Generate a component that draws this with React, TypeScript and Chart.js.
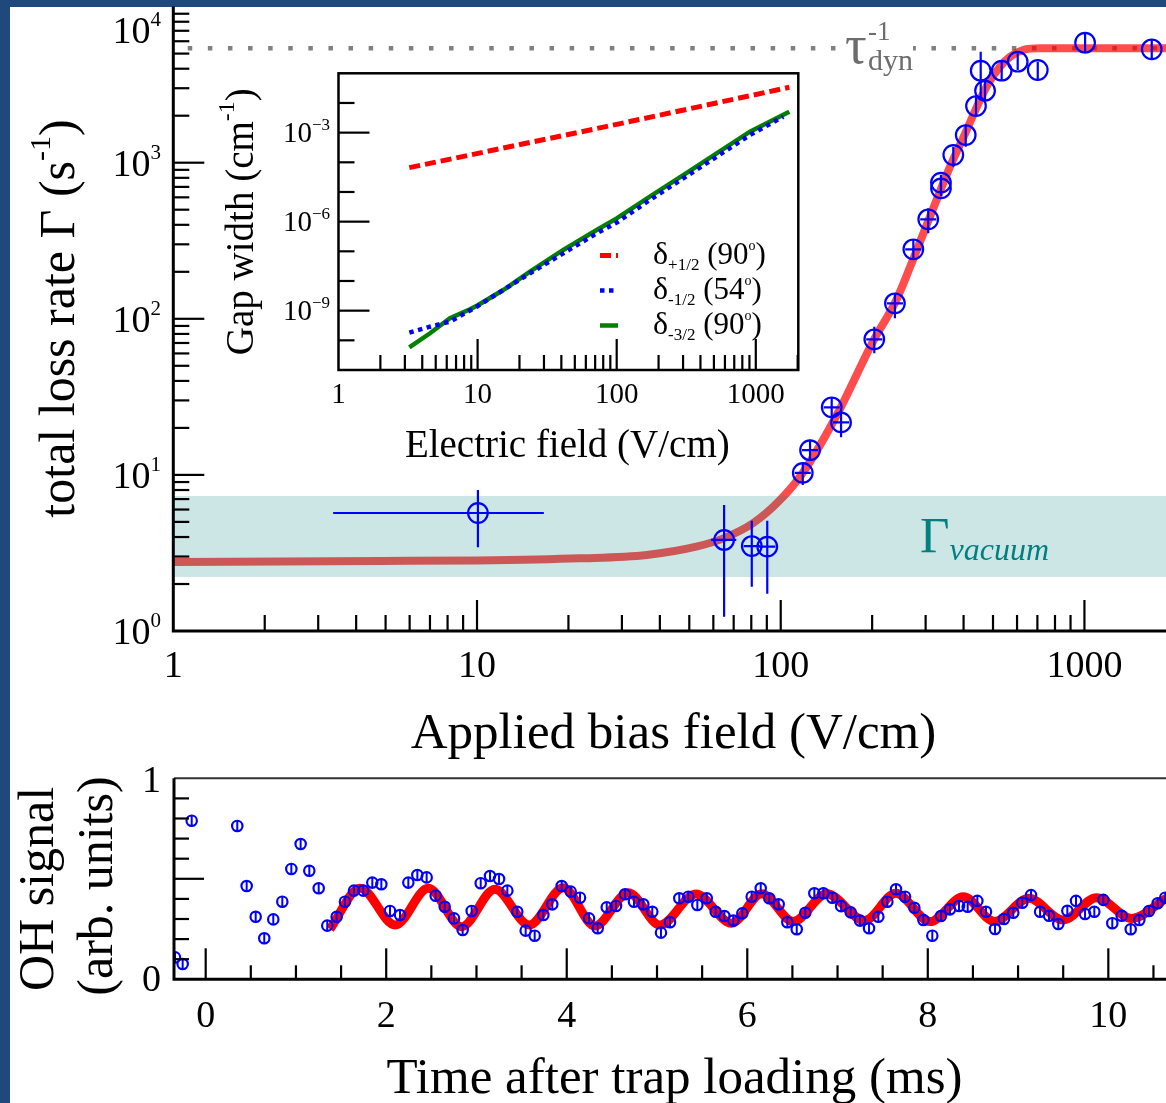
import React, { useEffect, useRef } from "react";
import { Chart, registerables } from "chart.js";
Chart.register(...registerables);

const SERIF = '"Liberation Serif", "Times New Roman", serif';

// ---------------- Main panel: total loss rate vs applied bias field ----------------
const FIELD = [10.07, 65.1, 80.3, 90.3, 118.2, 124.9, 147.2, 158, 203.3, 237.7, 273.3, 306, 337, 337, 370, 406.6, 439.5, 470.7, 455.5, 534, 603, 702, 1005, 1666];
const GAMMA = [5.7, 3.83, 3.5, 3.47, 10.3, 14.4, 27.1, 21.7, 73.9, 125.7, 278.7, 434, 745, 685, 1120, 1504, 2306, 2893, 3885, 3885, 4436, 3926, 5870, 5325];
const GAMMA_LO = [3.44, 1.235, 1.92, 1.73, 8.6, 12.3, 23.4, 17.4, 60.1, 100.7, 238, 353, 665, 610, 943, 1267, 2020, 2460, 2522, 3390, 3924, 3390, 5020, 4550];
const GAMMA_HI = [8.0, 6.41, 5.09, 5.09, 12.0, 16.8, 31.4, 26.0, 89, 145.6, 320, 510, 836, 770, 1265, 1743, 2632, 3390, 5140, 4550, 5016, 4436, 6840, 6170];
const FIELD_LO = [3.36, 59.0, 75.5, 84.9, 111.2, 117.5, 138.5, 148.6, 191.2, 223.6, 257, 287.9, null, null, null, null, null, null, null, null, null, null, null, null];
const FIELD_HI = [16.6, 71.4, 85.4, 96.0, 125.6, 132.8, 156.5, 168.0, 216.2, 252.7, 290.5, 325.3, null, null, null, null, null, null, null, null, null, null, null, null];

const FIT_FIELD = [1, 4.79, 10, 21.8, 36.2, 52.7, 64.7, 81.0, 99.5, 118.2, 153, 203, 238, 267, 295, 326, 361, 405, 453, 483, 527, 569, 628, 714, 900, 1856];
const FIT_GAMMA = [2.77, 2.81, 2.83, 2.92, 3.07, 3.47, 3.92, 4.9, 6.9, 10.3, 24.2, 73.9, 127, 216, 353, 577, 943, 1543, 2522, 3227, 4121, 4775, 5272, 5400, 5400, 5400];

const TAU_DYN_INV = 5400;
const VACUUM_LO = 2.22;
const VACUUM_HI = 7.32;
const MAIN_X_MAX = 1856;
const MAIN_X_LABELS = ["1", "10", "100", "1000"];
const MAIN_X_LABEL_VALUES = [1, 10, 100, 1000];
const MAIN_Y_EXPONENTS = [0, 1, 2, 3, 4];

// ---------------- Inset: gap widths ----------------
const DPLUS_X = [3.23, 100, 1742];
const DPLUS_Y = [6.6e-5, 1.9e-3, 3.37e-2];
const DM1_X = [3.23, 4.55, 6.33, 9.85, 15.3, 23.8, 41.3, 71.8, 100, 173, 301, 523, 908, 1577];
const DM1_Y = [1.81e-10, 2.88e-10, 4.26e-10, 1.36e-9, 4.97e-9, 1.82e-8, 8.57e-8, 4.05e-7, 9.25e-7, 5.37e-6, 2.89e-5, 1.55e-4, 8.32e-4, 3.45e-3];
const DM3_X = [3.23, 4.55, 6.33, 8.82, 10.1, 15.3, 23.8, 41.3, 71.8, 100, 173, 301, 523, 908, 1742];
const DM3_Y = [5.82e-11, 1.73e-10, 5.52e-10, 1.11e-9, 1.55e-9, 4.97e-9, 2.06e-8, 1.11e-7, 5.24e-7, 1.29e-6, 6.93e-6, 3.73e-5, 2.01e-4, 1.08e-3, 5.09e-3];
const INSET_X_MAX = 2021;
const INSET_X_LABELS = ["1", "10", "100", "1000"];
const INSET_X_LABEL_VALUES = [1, 10, 100, 1000];
const INSET_Y_LABEL_EXP = [-3, -6, -9];
const LEGEND_LABELS = [
  { sub: "+1/2", angle: "90" },
  { sub: "-1/2", angle: "54" },
  { sub: "-3/2", angle: "90" },
];

// ---------------- Bottom panel: OH signal vs time ----------------
const OSC_T = [-0.34, -0.255, -0.155, 0.35, 0.454, 0.554, 0.649, 0.749, 0.849, 0.949, 1.052, 1.148, 1.252, 1.347, 1.451, 1.543, 1.643, 1.746, 1.846, 1.946, 2.042, 2.153, 2.245, 2.345, 2.448, 2.548, 2.648, 2.751, 2.847, 2.947, 3.047, 3.15, 3.25, 3.342, 3.452, 3.545, 3.645, 3.741, 3.84, 3.944, 4.044, 4.147, 4.247, 4.343, 4.443, 4.546, 4.646, 4.745, 4.848, 4.948, 5.044, 5.144, 5.247, 5.347, 5.447, 5.551, 5.65, 5.746, 5.845, 5.945, 6.049, 6.149, 6.244, 6.348, 6.444, 6.548, 6.643, 6.743, 6.843, 6.942, 7.04, 7.146, 7.249, 7.349, 7.452, 7.552, 7.648, 7.748, 7.851, 7.951, 8.05, 8.146, 8.246, 8.346, 8.442, 8.549, 8.645, 8.745, 8.844, 8.947, 9.047, 9.144, 9.244, 9.343, 9.446, 9.546, 9.642, 9.742, 9.845, 9.945, 10.044, 10.148, 10.248, 10.343, 10.451, 10.547, 10.63];
const OSC_V = [0.109, 0.076, 0.789, 0.763, 0.464, 0.311, 0.204, 0.298, 0.386, 0.549, 0.673, 0.54, 0.453, 0.267, 0.311, 0.386, 0.441, 0.441, 0.481, 0.473, 0.34, 0.32, 0.481, 0.519, 0.507, 0.416, 0.361, 0.303, 0.245, 0.34, 0.478, 0.514, 0.499, 0.441, 0.336, 0.242, 0.217, 0.32, 0.373, 0.464, 0.436, 0.406, 0.303, 0.254, 0.358, 0.365, 0.423, 0.386, 0.373, 0.336, 0.232, 0.284, 0.403, 0.411, 0.37, 0.403, 0.336, 0.315, 0.292, 0.328, 0.411, 0.453, 0.403, 0.373, 0.284, 0.249, 0.331, 0.428, 0.428, 0.406, 0.364, 0.333, 0.292, 0.254, 0.311, 0.386, 0.448, 0.411, 0.356, 0.295, 0.217, 0.315, 0.348, 0.365, 0.361, 0.39, 0.336, 0.25, 0.3, 0.331, 0.381, 0.419, 0.336, 0.316, 0.275, 0.341, 0.39, 0.325, 0.336, 0.395, 0.279, 0.316, 0.249, 0.295, 0.34, 0.378, 0.406];
const OSC_ERR = 0.027;
const OSC_FIT_T = [1.378, 1.71, 2.1, 2.466, 2.836, 3.205, 3.585, 3.962, 4.313, 4.683, 5.033, 5.43, 5.827, 6.16, 6.51, 6.88, 7.3, 7.645, 8.025, 8.394, 8.74, 9.12, 9.5, 9.87, 10.26, 10.64];
const OSC_FIT_V = [0.25, 0.453, 0.27, 0.453, 0.262, 0.448, 0.27, 0.455, 0.265, 0.431, 0.27, 0.424, 0.279, 0.426, 0.287, 0.426, 0.292, 0.428, 0.287, 0.411, 0.287, 0.403, 0.295, 0.406, 0.303, 0.403];
const OSC_T_MIN = -0.351;
const OSC_T_MAX = 10.639;
const OSC_X_LABELS = ["0", "2", "4", "6", "8", "10"];
const OSC_X_LABEL_VALUES = [0, 2, 4, 6, 8, 10];

// ---------------- helpers ----------------
type Seg = { t: string; size: number; dy?: number; italic?: boolean };
const fontOf = (s: Seg) => `${s.italic ? "italic " : ""}${s.size}px ${SERIF}`;

function drawRich(ctx: CanvasRenderingContext2D, segs: Seg[], x: number, y: number, align: "left" | "center" | "right", color: string, rotate = false) {
  ctx.save();
  ctx.translate(x, y);
  if (rotate) ctx.rotate(-Math.PI / 2);
  ctx.fillStyle = color;
  ctx.textAlign = "left";
  ctx.textBaseline = "alphabetic";
  const widths = segs.map((s) => {
    ctx.font = fontOf(s);
    return ctx.measureText(s.t).width;
  });
  const total = widths.reduce((a, b) => a + b, 0);
  let cx = align === "left" ? 0 : align === "center" ? -total / 2 : -total;
  segs.forEach((s, i) => {
    ctx.font = fontOf(s);
    ctx.fillText(s.t, cx, s.dy || 0);
    cx += widths[i];
  });
  ctx.restore();
}

function line(ctx: CanvasRenderingContext2D, x1: number, y1: number, x2: number, y2: number) {
  ctx.beginPath();
  ctx.moveTo(x1, y1);
  ctx.lineTo(x2, y2);
  ctx.stroke();
}

const pts = (xs: number[], ys: number[]) => xs.map((x, i) => ({ x, y: ys[i] }));

// ---------------- main chart ----------------
const mainDecor = {
  id: "mainDecor",
  afterDatasetsDraw(chart: any) {
    const { ctx, chartArea: ca, scales } = chart;
    const xs = scales.x, ys = scales.y;
    ctx.save();
    ctx.beginPath();
    ctx.rect(ca.left, ca.top, ca.right - ca.left, ca.bottom - ca.top);
    ctx.clip();
    ctx.strokeStyle = "#0000ff";
    ctx.lineWidth = 2.2;
    for (let i = 0; i < FIELD.length; i++) {
      const px = xs.getPixelForValue(FIELD[i]);
      const py = ys.getPixelForValue(GAMMA[i]);
      line(ctx, px, ys.getPixelForValue(GAMMA_LO[i]), px, ys.getPixelForValue(GAMMA_HI[i]));
      if (FIELD_LO[i] != null && FIELD_HI[i] != null) {
        line(ctx, xs.getPixelForValue(FIELD_LO[i]), py, xs.getPixelForValue(FIELD_HI[i]), py);
      }
    }
    ctx.restore();
  },
  afterDraw(chart: any) {
    const { ctx, chartArea: ca, scales } = chart;
    const xs = scales.x, ys = scales.y;
    ctx.save();
    ctx.strokeStyle = "#000";
    ctx.lineWidth = 2.2;
    for (const d of [1, 10, 100, 1000]) {
      for (let m = 1; m <= 9; m++) {
        const v = m * d;
        if (v <= 1 || v > MAIN_X_MAX) continue;
        const px = xs.getPixelForValue(v);
        line(ctx, px, ca.bottom, px, ca.bottom - (m === 1 ? 31 : 16));
      }
    }
    for (const d of [1, 10, 100, 1000]) {
      for (let m = 1; m <= 9; m++) {
        const v = m * d;
        if (v <= 1) continue;
        const py = ys.getPixelForValue(v);
        line(ctx, ca.left, py, ca.left + (m === 1 ? 31 : 16), py);
      }
    }
    ctx.lineWidth = 3;
    ctx.beginPath();
    ctx.moveTo(ca.left, ca.top);
    ctx.lineTo(ca.left, ca.bottom);
    ctx.lineTo(ca.right, ca.bottom);
    ctx.stroke();

    MAIN_X_LABEL_VALUES.forEach((v, i) => {
      drawRich(ctx, [{ t: MAIN_X_LABELS[i], size: 38 }], xs.getPixelForValue(v), 677, "center", "#000");
    });
    MAIN_Y_EXPONENTS.forEach((e) => {
      const cy = Math.max(ys.getPixelForValue(Math.pow(10, e)), 30);
      drawRich(ctx, [{ t: "10", size: 38 }, { t: String(e), size: 21, dy: -17 }], 161, cy + 13, "right", "#000");
    });
    drawRich(ctx, [{ t: "Applied bias field (V/cm)", size: 51 }], 673.5, 748, "center", "#000");
    drawRich(ctx, [{ t: "total loss rate Γ (s", size: 50 }, { t: "-1", size: 30, dy: -24 }, { t: ")", size: 50 }], 74, 318.5, "center", "#000", true);

    ctx.fillStyle = "#fff";
    ctx.fillRect(843, 44, 70, 9);
    ctx.fillStyle = "#6d6d6d";
    ctx.textAlign = "left";
    ctx.textBaseline = "alphabetic";
    ctx.font = `54px ${SERIF}`;
    ctx.fillText("τ", 845, 63);
    ctx.font = `30px ${SERIF}`;
    ctx.fillText("dyn", 868, 70);
    ctx.font = `27px ${SERIF}`;
    ctx.fillText("-1", 868, 40);

    drawRich(ctx, [{ t: "Γ", size: 51 }, { t: "vacuum", size: 32, italic: true, dy: 8.3 }], 920, 551.7, "left", "#008080");
    ctx.restore();
  },
};

function mainConfig(): any {
  return {
    type: "scatter",
    data: {
      datasets: [
        {
          type: "scatter",
          label: "Loss rate",
          data: pts(FIELD, GAMMA),
          pointStyle: "circle",
          pointRadius: 9.8,
          pointBorderWidth: 2.2,
          pointBorderColor: "#0000ff",
          pointBackgroundColor: "rgba(0,0,0,0)",
          order: 0,
        },
        {
          type: "line",
          label: "Γ vacuum",
          data: [{ x: 1, y: VACUUM_HI }, { x: MAIN_X_MAX, y: VACUUM_HI }],
          showLine: true,
          borderWidth: 0,
          borderColor: "rgba(0,0,0,0)",
          backgroundColor: "rgba(0,128,128,0.2)",
          fill: { value: VACUUM_LO },
          pointRadius: 0,
          order: 1,
        },
        {
          type: "line",
          label: "Fit",
          data: pts(FIT_FIELD, FIT_GAMMA),
          showLine: true,
          borderColor: "rgba(255,0,0,0.7)",
          borderWidth: 8,
          cubicInterpolationMode: "monotone",
          pointRadius: 0,
          fill: false,
          order: 2,
        },
        {
          type: "line",
          label: "tau_dyn^-1",
          data: [{ x: 1, y: TAU_DYN_INV }, { x: MAIN_X_MAX, y: TAU_DYN_INV }],
          showLine: true,
          borderColor: "#808080",
          borderWidth: 4.5,
          borderDash: [4.5, 15.6],
          borderDashOffset: 5.65,
          pointRadius: 0,
          fill: false,
          order: 3,
        },
      ],
    },
    options: {
      responsive: false,
      animation: false,
      devicePixelRatio: 1,
      events: [],
      layout: { autoPadding: false, padding: { left: 173.3, top: 6.6, right: 0, bottom: 139 } },
      scales: {
        x: { type: "logarithmic", min: 1, max: MAIN_X_MAX, display: false, bounds: "data" },
        y: { type: "logarithmic", min: 1, max: 10000, display: false, bounds: "data" },
      },
      plugins: { legend: { display: false }, tooltip: { enabled: false } },
    },
    plugins: [mainDecor],
  };
}

// ---------------- inset chart ----------------
const insetDecor = {
  id: "insetDecor",
  beforeDraw(chart: any) {
    const { ctx, chartArea: ca } = chart;
    ctx.save();
    ctx.fillStyle = "#fff";
    ctx.fillRect(ca.left, ca.top, ca.right - ca.left, ca.bottom - ca.top);
    ctx.restore();
  },
  afterDraw(chart: any) {
    const { ctx, chartArea: ca, scales } = chart;
    const xs = scales.x, ys = scales.y;
    ctx.save();
    ctx.strokeStyle = "#000";
    ctx.lineWidth = 2.2;
    for (const d of [1, 10, 100, 1000]) {
      for (let m = 1; m <= 9; m++) {
        const v = m * d;
        if (v <= 1 || v >= INSET_X_MAX) continue;
        const px = xs.getPixelForValue(v);
        line(ctx, px, ca.bottom, px, ca.bottom - (m === 1 ? 31 : 15));
      }
    }
    for (let e = -10; e <= -2; e++) {
      const py = ys.getPixelForValue(Math.pow(10, e));
      const major = INSET_Y_LABEL_EXP.includes(e);
      line(ctx, ca.left, py, ca.left + (major ? 31 : 16), py);
    }
    ctx.lineWidth = 2.5;
    ctx.strokeRect(ca.left, ca.top, ca.right - ca.left, ca.bottom - ca.top);

    INSET_X_LABEL_VALUES.forEach((v, i) => {
      drawRich(ctx, [{ t: INSET_X_LABELS[i], size: 29 }], xs.getPixelForValue(v), 343, "center", "#000");
    });
    INSET_Y_LABEL_EXP.forEach((e) => {
      const py = ys.getPixelForValue(Math.pow(10, e));
      drawRich(ctx, [{ t: "10", size: 29 }, { t: "−" + Math.abs(e), size: 17, dy: -12 }], 130, py + 9.8, "right", "#000");
    });
    drawRich(ctx, [{ t: "Electric field (V/cm)", size: 39 }], 367.3, 396.7, "center", "#000");
    drawRich(ctx, [{ t: "Gap width (cm", size: 39 }, { t: "-1", size: 24, dy: -19 }, { t: ")", size: 39 }], 53.3, 161.7, "center", "#000", true);

    const styles = [
      { color: "#ff0000", dash: [11, 5], width: 5 },
      { color: "#0000ff", dash: [4.5, 4.5], width: 4.5 },
      { color: "#008000", dash: [], width: 4.5 },
    ];
    const baselines = [204, 239, 274];
    LEGEND_LABELS.forEach((lab, i) => {
      const st = styles[i];
      const yb = baselines[i];
      ctx.save();
      ctx.strokeStyle = st.color;
      ctx.lineWidth = st.width;
      ctx.setLineDash(st.dash);
      line(ctx, 400, yb - 8.5, 418, yb - 8.5);
      ctx.restore();
      drawRich(
        ctx,
        [
          { t: "δ", size: 32 },
          { t: lab.sub, size: 17, dy: 6 },
          { t: " (" + lab.angle, size: 31 },
          { t: "o", size: 14, dy: -14 },
          { t: ")", size: 31 },
        ],
        453,
        yb,
        "left",
        "#000"
      );
    });
    ctx.restore();
  },
};

function insetConfig(): any {
  return {
    type: "line",
    data: {
      datasets: [
        {
          label: "δ-1/2 (54°)",
          data: pts(DM1_X, DM1_Y),
          borderColor: "#0000ff",
          borderWidth: 4.5,
          borderDash: [4.5, 4.5],
          pointRadius: 0,
          fill: false,
          order: 0,
        },
        {
          label: "δ-3/2 (90°)",
          data: pts(DM3_X, DM3_Y),
          borderColor: "#008000",
          borderWidth: 4.5,
          pointRadius: 0,
          fill: false,
          order: 1,
        },
        {
          label: "δ+1/2 (90°)",
          data: pts(DPLUS_X, DPLUS_Y),
          borderColor: "#ff0000",
          borderWidth: 5,
          borderDash: [11, 5],
          pointRadius: 0,
          fill: false,
          order: 2,
        },
      ],
    },
    options: {
      responsive: false,
      animation: false,
      devicePixelRatio: 1,
      events: [],
      layout: { autoPadding: false, padding: { left: 138.5, top: 13.3, right: 11.7, bottom: 100 } },
      scales: {
        x: { type: "logarithmic", min: 1, max: INSET_X_MAX, display: false, bounds: "data" },
        y: { type: "logarithmic", min: 1e-11, max: 1e-1, display: false, bounds: "data" },
      },
      plugins: { legend: { display: false }, tooltip: { enabled: false } },
    },
    plugins: [insetDecor],
  };
}

// ---------------- oscillation chart ----------------
const oscDecor = {
  id: "oscDecor",
  afterDatasetsDraw(chart: any) {
    const { ctx, chartArea: ca, scales } = chart;
    const xs = scales.x, ys = scales.y;
    ctx.save();
    ctx.beginPath();
    ctx.rect(ca.left, ca.top, ca.right - ca.left, ca.bottom - ca.top);
    ctx.clip();
    ctx.strokeStyle = "#0000ff";
    ctx.lineWidth = 2;
    for (let i = 0; i < OSC_T.length; i++) {
      const px = xs.getPixelForValue(OSC_T[i]);
      line(ctx, px, ys.getPixelForValue(OSC_V[i] - OSC_ERR), px, ys.getPixelForValue(OSC_V[i] + OSC_ERR));
    }
    ctx.restore();
  },
  afterDraw(chart: any) {
    const { ctx, chartArea: ca, scales } = chart;
    const xs = scales.x, ys = scales.y;
    ctx.save();
    ctx.strokeStyle = "#000";
    ctx.lineWidth = 2.2;
    for (let k = 0; k * 0.5 <= OSC_T_MAX; k++) {
      const px = xs.getPixelForValue(k * 0.5);
      line(ctx, px, ca.bottom, px, ca.bottom - (k % 4 === 0 ? 31 : 14));
    }
    for (let k = 1; k <= 9; k++) {
      const py = ys.getPixelForValue(k / 10);
      line(ctx, ca.left, py, ca.left + (k === 5 ? 30 : 15), py);
    }
    ctx.strokeStyle = "#333";
    ctx.lineWidth = 2;
    line(ctx, ca.left, ca.top, ca.right, ca.top);
    ctx.strokeStyle = "#000";
    ctx.lineWidth = 3;
    ctx.beginPath();
    ctx.moveTo(ca.left, ca.top);
    ctx.lineTo(ca.left, ca.bottom);
    ctx.lineTo(ca.right, ca.bottom);
    ctx.stroke();

    OSC_X_LABEL_VALUES.forEach((v, i) => {
      drawRich(ctx, [{ t: OSC_X_LABELS[i], size: 38 }], xs.getPixelForValue(v), 267, "center", "#000");
    });
    drawRich(ctx, [{ t: "1", size: 38 }], 161, ys.getPixelForValue(1) + 14, "right", "#000");
    drawRich(ctx, [{ t: "0", size: 38 }], 161, ys.getPixelForValue(0) + 12, "right", "#000");

    drawRich(ctx, [{ t: "Time after trap loading (ms)", size: 51 }], 674.5, 333, "center", "#000");
    drawRich(ctx, [{ t: "OH signal", size: 50 }], 53, 129, "center", "#000", true);
    drawRich(ctx, [{ t: "(arb. units)", size: 50 }], 112, 126, "center", "#000", true);
    ctx.restore();
  },
};

function oscConfig(): any {
  return {
    type: "scatter",
    data: {
      datasets: [
        {
          type: "scatter",
          label: "OH signal",
          data: pts(OSC_T, OSC_V),
          pointStyle: "circle",
          pointRadius: 5.2,
          pointBorderWidth: 2.2,
          pointBorderColor: "#0000ff",
          pointBackgroundColor: "rgba(0,0,0,0)",
          clip: 0,
          order: 0,
        },
        {
          type: "line",
          label: "Fit",
          data: pts(OSC_FIT_T, OSC_FIT_V),
          showLine: true,
          borderColor: "#ff0000",
          borderWidth: 9,
          cubicInterpolationMode: "monotone",
          pointRadius: 0,
          fill: false,
          order: 1,
        },
      ],
    },
    options: {
      responsive: false,
      animation: false,
      devicePixelRatio: 1,
      events: [],
      layout: { autoPadding: false, padding: { left: 174, top: 18.3, right: 0, bottom: 123.7 } },
      scales: {
        x: { type: "linear", min: OSC_T_MIN, max: OSC_T_MAX, display: false, bounds: "data" },
        y: { type: "linear", min: 0, max: 1, display: false, bounds: "data" },
      },
      plugins: { legend: { display: false }, tooltip: { enabled: false } },
    },
    plugins: [oscDecor],
  };
}

export default function App() {
  const mainRef = useRef<HTMLCanvasElement>(null);
  const insetRef = useRef<HTMLCanvasElement>(null);
  const oscRef = useRef<HTMLCanvasElement>(null);

  useEffect(() => {
    const charts = [
      new Chart(mainRef.current as HTMLCanvasElement, mainConfig()),
      new Chart(oscRef.current as HTMLCanvasElement, oscConfig()),
      new Chart(insetRef.current as HTMLCanvasElement, insetConfig()),
    ];
    return () => charts.forEach((c) => c.destroy());
  }, []);

  return (
    <div style={{ position: "fixed", left: 0, top: 0, width: 1166, height: 1103, background: "#1F497D", overflow: "hidden" }}>
      <div style={{ position: "absolute", left: 10, top: 7, right: 0, bottom: 0, background: "#ffffff" }} />
      <canvas ref={mainRef} width={1166} height={770} style={{ position: "absolute", left: 0, top: 0, width: 1166, height: 770 }} />
      <canvas ref={oscRef} width={1166} height={343} style={{ position: "absolute", left: 0, top: 760, width: 1166, height: 343 }} />
      <canvas ref={insetRef} width={610} height={410} style={{ position: "absolute", left: 200, top: 60, width: 610, height: 410 }} />
    </div>
  );
}
